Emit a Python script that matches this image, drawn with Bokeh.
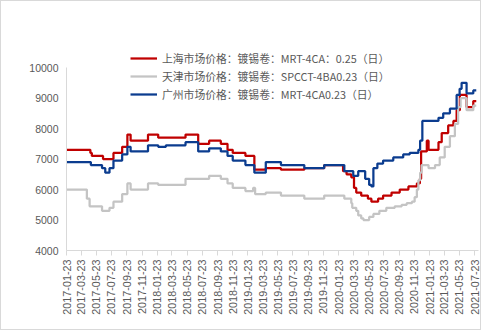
import pandas as pd
from bokeh.plotting import figure
from bokeh.models import (FixedTicker, DatetimeTickFormatter, Range1d, Legend,
                          LegendItem, ColumnDataSource)
from bokeh.embed import file_html
from bokeh.resources import INLINE

END_DATE = "2021-07-30"

sh_dates = ["2017-01-23", "2017-04-29", "2017-05-05", "2017-06-19", "2017-07-31",
            "2017-09-04", "2017-09-25", "2017-10-08", "2017-12-17", "2018-01-27",
            "2018-05-17", "2018-07-07", "2018-08-20", "2018-10-06", "2018-11-02",
            "2018-11-23", "2019-01-13", "2019-02-18", "2019-04-05", "2019-06-05",
            "2019-09-07", "2019-11-26", "2020-02-10", "2020-02-24", "2020-03-14",
            "2020-03-25", "2020-04-03", "2020-04-23", "2020-05-20", "2020-06-03",
            "2020-06-30", "2020-07-20", "2020-08-23", "2020-09-25", "2020-10-30",
            "2020-12-03", "2020-12-15", "2020-12-20", "2021-01-12", "2021-01-19",
            "2021-02-28", "2021-03-13", "2021-04-08", "2021-04-29", "2021-05-12",
            "2021-05-25", "2021-06-21", "2021-07-18"]
sh_vals = [7300, 7200, 7100, 7000, 7200,
           7400, 7800, 7600, 7800, 7700,
           7800, 7500, 7600, 7500, 7300,
           7200, 7100, 6650, 6700, 6650,
           6700, 6800, 6600, 6500, 6400,
           6050, 5900, 5800, 5700, 5600,
           5700, 5800, 5900, 6000, 6100,
           6200, 6350, 7250, 7600, 7300,
           7550, 7850, 8100, 8250, 8600,
           9100, 8700, 8900]

tj_dates = ["2017-01-23", "2017-04-15", "2017-04-26", "2017-06-15", "2017-07-15",
            "2017-07-31", "2017-09-04", "2017-09-25", "2017-10-08", "2017-12-17",
            "2018-01-27", "2018-05-17", "2018-08-20", "2018-10-06", "2018-11-02",
            "2018-11-23", "2019-01-13", "2019-02-13", "2019-02-21", "2019-04-05",
            "2019-06-05", "2019-09-07", "2019-11-26", "2020-02-15", "2020-03-14",
            "2020-03-18", "2020-04-03", "2020-04-11", "2020-04-23", "2020-05-02",
            "2020-05-25", "2020-06-11", "2020-07-05", "2020-08-02", "2020-09-05",
            "2020-10-03", "2020-10-23", "2020-11-13", "2020-11-24", "2020-12-03",
            "2020-12-09", "2020-12-16", "2020-12-22", "2021-01-19", "2021-02-14",
            "2021-03-05", "2021-03-25", "2021-04-15", "2021-05-05", "2021-05-18",
            "2021-05-28", "2021-06-21", "2021-07-18"]
tj_vals = [6000, 5700, 5450, 5300, 5400,
           5600, 5850, 6200, 6000, 6200,
           6150, 6350, 6450, 6350, 6200,
           6050, 5950, 6050, 5850, 5900,
           5800, 5700, 5800, 5700, 5550,
           5400, 5300, 5150, 5050, 5000,
           5100, 5200, 5300, 5400, 5450,
           5500, 5550, 5600, 5750, 6000,
           6300, 6550, 6800, 6700, 6800,
           7050, 7400, 7750, 8150, 8700,
           9000, 8600, 8750]

gz_dates = ["2017-01-23", "2017-05-01", "2017-06-15", "2017-06-28", "2017-07-15",
            "2017-07-31", "2017-09-04", "2017-09-25", "2017-10-08", "2017-12-17",
            "2018-01-27", "2018-02-27", "2018-05-17", "2018-07-07", "2018-08-20",
            "2018-10-06", "2018-11-02", "2018-11-23", "2019-01-13", "2019-02-18",
            "2019-04-05", "2019-06-05", "2019-09-07", "2019-11-26", "2020-02-15",
            "2020-03-22", "2020-04-11", "2020-05-09", "2020-05-25", "2020-06-03",
            "2020-06-11", "2020-06-27", "2020-07-20", "2020-08-30", "2020-10-09",
            "2020-11-04", "2020-12-09", "2020-12-16", "2020-12-25", "2021-02-28",
            "2021-03-19", "2021-04-15", "2021-05-12", "2021-05-24", "2021-06-01",
            "2021-06-21", "2021-07-18"]
gz_vals = [6900, 6800, 6700, 6550, 6700,
           6950, 7150, 7400, 7250, 7450,
           7400, 7450, 7550, 7250, 7350,
           7250, 7100, 6950, 6800, 6550,
           6900, 6800, 6700, 6800, 6600,
           6450, 6600, 6350, 6150, 6100,
           6700, 6850, 6950, 7050, 7150,
           7200, 7300, 7600, 8250, 8350,
           8500, 8650, 9100, 9300, 9500,
           9150, 9250]

tick_labels = ["2017-01-23", "2017-03-23", "2017-05-23", "2017-07-23", "2017-09-23",
               "2017-11-23", "2018-01-23", "2018-03-23", "2018-05-23", "2018-07-23",
               "2018-09-23", "2018-11-23", "2019-01-23", "2019-03-23", "2019-05-23",
               "2019-07-23", "2019-09-23", "2019-11-23", "2020-01-23", "2020-03-23",
               "2020-05-23", "2020-07-23", "2020-09-23", "2020-11-23", "2021-01-23",
               "2021-03-23", "2021-05-23", "2021-07-23"]

y_ticks = [4000, 5000, 6000, 7000, 8000, 9000, 10000]

series_names = ["上海市场价格：镀锡卷：MRT-4CA：0.25（日）",
                "天津市场价格：镀锡卷：SPCCT-4BA0.23（日）",
                "广州市场价格：镀锡卷：MRT-4CA0.23（日）"]
colors = ["#C00000", "#C4C4C4", "#0B3C8F"]


def make_source(dates, vals):
    d = pd.to_datetime(list(dates) + [END_DATE])
    v = list(vals) + [vals[-1]]
    return ColumnDataSource(dict(date=d, val=v))


# frame spans from the top of the canvas down to the x axis; the y axis
# itself is bounded to 4000..10000 so the empty top band holds the legend
p = figure(width=481, height=330, x_axis_type="datetime",
           output_backend="svg", toolbar_location=None,
           min_border_left=65, min_border_right=4,
           min_border_top=0, min_border_bottom=81,
           x_range=Range1d(pd.Timestamp("2017-01-23"), pd.Timestamp("2021-08-08")),
           y_range=Range1d(4000, 12164))
p.styles = {"border": "1px solid #D9D9D9"}
p.outline_line_color = None
p.xgrid.visible = False
p.ygrid.visible = False
p.background_fill_color = "white"
p.border_fill_color = "white"

renderers = []
for dates, vals, col in [(sh_dates, sh_vals, colors[0]),
                         (tj_dates, tj_vals, colors[1]),
                         (gz_dates, gz_vals, colors[2])]:
    r = p.step(x="date", y="val", source=make_source(dates, vals), mode="after",
               line_color=col, line_width=2.25)
    renderers.append(r)

# x axis
tick_ms = [pd.Timestamp(t).timestamp() * 1000 for t in tick_labels]
p.xaxis.ticker = FixedTicker(ticks=tick_ms)
fmt = "%Y-%m-%d"
p.xaxis.formatter = DatetimeTickFormatter(milliseconds=fmt, seconds=fmt, minsec=fmt,
                                          minutes=fmt, hourmin=fmt, hours=fmt,
                                          days=fmt, months=fmt, years=fmt)
p.xaxis.major_label_orientation = 1.5707963
p.xaxis.axis_line_color = "#D9D9D9"
p.xaxis.major_tick_line_color = "#D9D9D9"
p.xaxis.major_tick_out = 5
p.xaxis.major_tick_in = 0
p.xaxis.minor_tick_line_color = None
p.xaxis.major_label_text_font = "Liberation Sans"
p.xaxis.major_label_text_font_size = "10.8px"
p.xaxis.major_label_text_color = "#595959"
p.xaxis.major_label_standoff = 4

# y axis
p.yaxis.ticker = FixedTicker(ticks=y_ticks)
p.yaxis.bounds = (y_ticks[0], y_ticks[-1])
p.yaxis.axis_line_color = "#D9D9D9"
p.yaxis.major_tick_line_color = None
p.yaxis.minor_tick_line_color = None
p.yaxis.major_tick_out = 0
p.yaxis.major_tick_in = 0
p.yaxis.major_label_text_font = "Liberation Sans"
p.yaxis.major_label_text_font_size = "10.5px"
p.yaxis.major_label_text_color = "#595959"
p.yaxis.major_label_standoff = 8

legend = Legend(items=[LegendItem(label=n, renderers=[r]) for n, r in zip(series_names, renderers)],
                location=(64, 147), orientation="vertical",
                glyph_width=27, glyph_height=18, label_height=18,
                label_standoff=5, spacing=0, padding=0, margin=0,
                border_line_color=None, background_fill_alpha=0,
                label_text_font="Noto Sans CJK SC", label_text_font_size="10.8px",
                label_text_color="#595959")
p.add_layout(legend)

open("out.html", "w").write(file_html(p, INLINE))
